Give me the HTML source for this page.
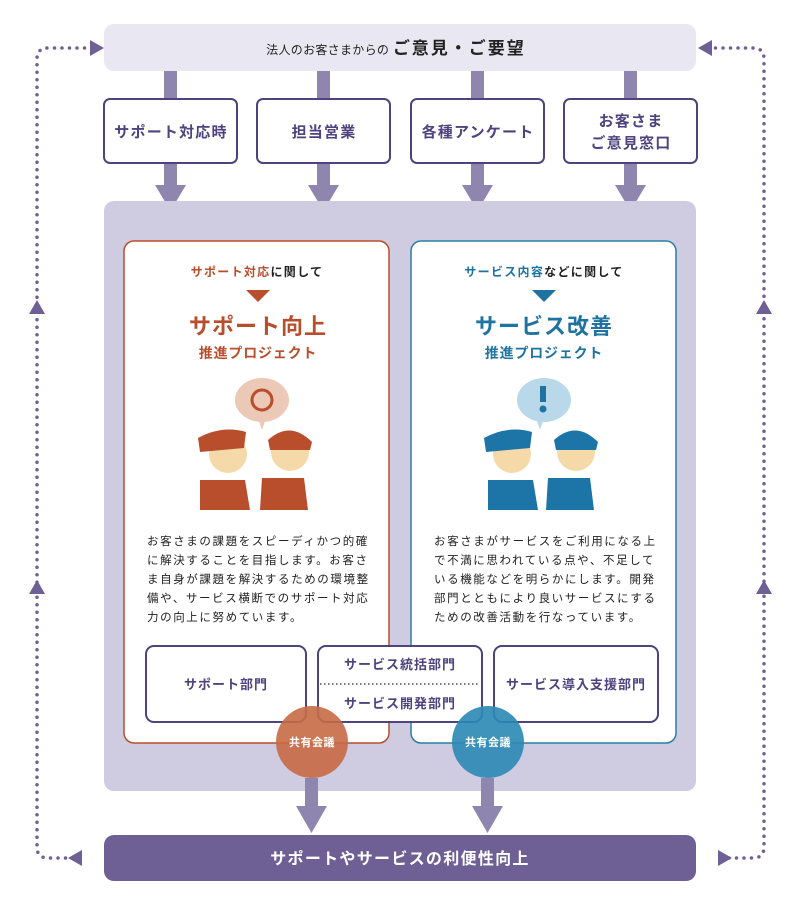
<!DOCTYPE html>
<html><head><meta charset="utf-8"><style>
html,body{margin:0;padding:0;background:#fff;}
svg{display:block;}
text{font-family:"Liberation Sans","Noto Sans CJK JP",sans-serif;}
</style></head><body>
<svg width="800" height="919" viewBox="0 0 800 919" xmlns="http://www.w3.org/2000/svg">
<g fill="none" stroke="#6e5f94" stroke-width="3.5" stroke-linecap="round" stroke-dasharray="0 7.5">
<path d="M92 48 H48 Q37 48 37 59 V847 Q37 858 48 858 H78"/>
<path d="M708 48 H753 Q764 48 764 59 V847 Q764 858 753 858 H722"/>
</g>
<g fill="#6e5f94">
<polygon points="90,40 104,48 90,56"/>
<polygon points="712,40 698,48 712,56"/>
<polygon points="29,314 37,300 45,314"/>
<polygon points="29,594 37,580 45,594"/>
<polygon points="756,314 764,300 772,314"/>
<polygon points="756,594 764,580 772,594"/>
<polygon points="82,850 68,858 82,866"/>
<polygon points="718,850 732,858 718,866"/>
</g>
<rect x="104" y="24" width="592" height="47" rx="10" fill="#e9e8f2"/>
<text x="396" y="54" text-anchor="middle" font-size="12" fill="#222" letter-spacing="0.3">法人のお客さまからの <tspan font-size="17" font-weight="bold" letter-spacing="2">ご意見・ご要望</tspan></text>
<g fill="#8f86b0">
<rect x="164" y="71" width="13" height="28"/><rect x="317" y="71" width="13" height="28"/><rect x="471" y="71" width="13" height="28"/><rect x="624" y="71" width="13" height="28"/>
<rect x="164" y="163" width="13" height="24"/><polygon points="155,185 186,185 170.5,211"/>
<rect x="317" y="163" width="13" height="24"/><polygon points="308,185 339,185 323.5,211"/>
<rect x="471" y="163" width="13" height="24"/><polygon points="462,185 493,185 477.5,211"/>
<rect x="624" y="163" width="13" height="24"/><polygon points="615,185 646,185 630.5,211"/>
</g>
<g fill="#fff" stroke="#4e437f" stroke-width="2">
<rect x="104" y="99" width="133" height="64" rx="6"/>
<rect x="257" y="99" width="133" height="64" rx="6"/>
<rect x="411" y="99" width="133" height="64" rx="6"/>
<rect x="564" y="99" width="133" height="64" rx="6"/>
</g>
<g font-size="15" font-weight="bold" fill="#4e437f" text-anchor="middle" letter-spacing="1.2">
<text x="171" y="137">サポート対応時</text>
<text x="324" y="137">担当営業</text>
<text x="478" y="137">各種アンケート</text>
<text x="631" y="126">お客さま</text>
<text x="631" y="148">ご意見窓口</text>
</g>
<rect x="104" y="201" width="592" height="590" rx="10" fill="#cfcbe0"/>
<rect x="124" y="241" width="265" height="502" rx="10" fill="#fff" stroke="#b84e2c" stroke-width="1.5"/>
<rect x="411" y="241" width="265" height="502" rx="10" fill="#fff" stroke="#2a7fa6" stroke-width="1.5"/>
<text x="257" y="276" text-anchor="middle" font-size="12" font-weight="bold" fill="#b84e2c" letter-spacing="1.3">サポート対応<tspan fill="#222">に関して</tspan></text>
<polygon points="246,290 270,290 258,302" fill="#b84e2c"/>
<text x="258" y="334" text-anchor="middle" font-size="22" font-weight="bold" fill="#b84e2c" letter-spacing="1">サポート向上</text>
<text x="258" y="358" text-anchor="middle" font-size="14" font-weight="bold" fill="#b84e2c" letter-spacing="0.8">推進プロジェクト</text>
<ellipse cx="262" cy="400" rx="27" ry="22" fill="#ecc8b6"/>
<polygon points="258,418 266,418 262,430" fill="#ecc8b6"/>
<circle cx="262" cy="400" r="10" fill="none" stroke="#b84e2c" stroke-width="3"/>
<path d="M200 480 h45 l5 30 h-50z M262 478 h42 l4 32 h-48z" fill="#b84e2c"/>
<circle cx="228" cy="454" r="19" fill="#f6d9a8"/>
<circle cx="290" cy="452" r="19" fill="#f6d9a8"/>
<path d="M198 438 Q222 425 246 432 L244 448 L200 452z" fill="#b84e2c"/>
<path d="M268 440 Q290 420 312 442 L310 450 L270 450z" fill="#b84e2c"/>
<g font-size="11.5" fill="#222" letter-spacing="1.6">
<text x="147" y="545">お客さまの課題をスピーディかつ的確</text>
<text x="147" y="564">に解決することを目指します。お客さ</text>
<text x="147" y="583">ま自身が課題を解決するための環境整</text>
<text x="147" y="602">備や、サービス横断でのサポート対応</text>
<text x="147" y="621">力の向上に努めています。</text>
</g>
<text x="544" y="276" text-anchor="middle" font-size="12" font-weight="bold" fill="#1f73a0" letter-spacing="1.3">サービス内容<tspan fill="#222">などに関して</tspan></text>
<polygon points="532,290 556,290 544,302" fill="#1f73a0"/>
<text x="544" y="334" text-anchor="middle" font-size="22" font-weight="bold" fill="#1f73a0" letter-spacing="1">サービス改善</text>
<text x="544" y="358" text-anchor="middle" font-size="14" font-weight="bold" fill="#1f73a0" letter-spacing="0.8">推進プロジェクト</text>
<ellipse cx="544" cy="400" rx="27" ry="22" fill="#b9d8ea"/>
<polygon points="536,418 544,418 540,430" fill="#b9d8ea"/>
<rect x="540" y="386" width="6" height="16" fill="#1f73a0"/><circle cx="543" cy="409" r="3.5" fill="#1f73a0"/>
<path d="M488 480 h45 l5 30 h-50z M548 478 h42 l4 32 h-48z" fill="#1d74a6"/>
<circle cx="512" cy="454" r="19" fill="#f6d9a8"/>
<circle cx="576" cy="452" r="19" fill="#f6d9a8"/>
<path d="M484 438 Q508 425 532 432 L530 448 L486 452z" fill="#1d74a6"/>
<path d="M554 440 Q576 420 598 442 L596 450 L556 450z" fill="#1d74a6"/>
<g font-size="11.5" fill="#222" letter-spacing="1.6">
<text x="434" y="545">お客さまがサービスをご利用になる上</text>
<text x="434" y="564">で不満に思われている点や、不足して</text>
<text x="434" y="583">いる機能などを明らかにします。開発</text>
<text x="434" y="602">部門とともにより良いサービスにする</text>
<text x="434" y="621">ための改善活動を行なっています。</text>
</g>
<g fill="#fff" stroke="#4e437f" stroke-width="2">
<rect x="146" y="646" width="160" height="76" rx="8"/>
<rect x="318" y="646" width="164" height="76" rx="8"/>
<rect x="494" y="646" width="164" height="76" rx="8"/>
</g>
<line x1="320" y1="684" x2="480" y2="684" stroke="#4e437f" stroke-width="1.5" stroke-dasharray="1.5 2.5"/>
<g font-size="13" font-weight="bold" fill="#4e437f" text-anchor="middle" letter-spacing="1">
<text x="226" y="689">サポート部門</text>
<text x="400" y="669">サービス統括部門</text>
<text x="400" y="708">サービス開発部門</text>
<text x="576" y="689">サービス導入支援部門</text>
</g>
<circle cx="312" cy="742" r="36" fill="#c66a45" fill-opacity="0.9"/>
<circle cx="488" cy="742" r="36" fill="#2a88b4" fill-opacity="0.9"/>
<g font-size="11" font-weight="bold" fill="#fff" text-anchor="middle" letter-spacing="0.5">
<text x="312" y="746">共有会議</text><text x="488" y="746">共有会議</text>
</g>
<g fill="#8f86b0">
<rect x="305" y="778" width="13" height="30"/><polygon points="296,806 327,806 311.5,833"/>
<rect x="481" y="778" width="13" height="30"/><polygon points="472,806 503,806 487.5,833"/>
</g>
<rect x="104" y="835" width="592" height="46" rx="10" fill="#6e5f94"/>
<text x="400" y="864" text-anchor="middle" font-size="16" font-weight="bold" fill="#fff" letter-spacing="1.3">サポートやサービスの利便性向上</text>
</svg>
</body></html>
